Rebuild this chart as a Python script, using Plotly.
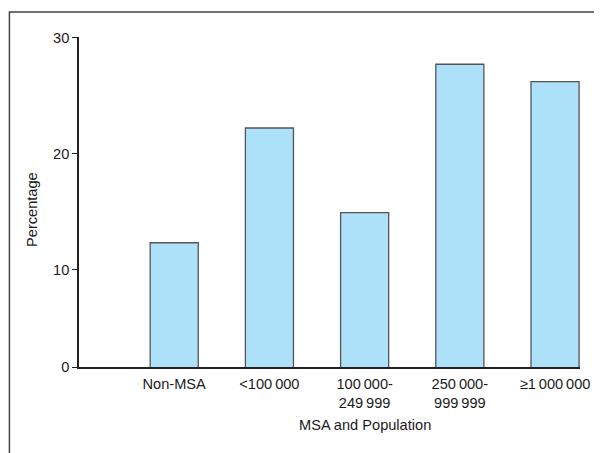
import plotly.graph_objects as go

categories = ["Non-MSA", "<100\u2009000", "100\u2009000-<br>249\u2009999",
              "250\u2009000-<br>999\u2009999", "\u22651\u2009000\u2009000"]
percentages = [12.3, 22.2, 14.9, 27.7, 26.2]

y_tick_values = [1.58, 10, 20, 30]
y_tick_labels = ["0", "10", "20", "30"]

FONT = "Liberation Sans, Arial, sans-serif"
FS = 14.6

# page body has an 8px margin; figure is sized so it fits the 602x453 window
W, H = 594, 445
L, T, PW, PH = 71, 29, 504, 330

fig = go.Figure()
fig.add_trace(go.Bar(
    x=list(range(len(categories))),
    y=percentages,
    width=0.505,
    marker=dict(color="#ADE0F9", line=dict(color="#555555", width=1.3)),
    cliponaxis=False,
))

fig.update_layout(
    width=W, height=H,
    margin=dict(l=L, r=W - L - PW, t=T, b=H - T - PH, pad=0),
    paper_bgcolor="white", plot_bgcolor="white",
    showlegend=False,
    font=dict(family=FONT, size=FS, color="#1a1a1a"),
    xaxis=dict(
        range=[-1, 4.262],
        tickmode="array",
        tickvals=list(range(len(categories))),
        ticktext=categories,
        ticks="", showgrid=False, zeroline=False,
        showline=True, linecolor="#222222", linewidth=1.5,
        tickfont=dict(family=FONT, size=FS),
        ticklabelstandoff=3,
    ),
    yaxis=dict(
        range=[1.58, 30.05],
        tickmode="array",
        tickvals=y_tick_values,
        ticktext=y_tick_labels,
        ticks="outside", ticklen=5, tickwidth=1.3, tickcolor="#222222",
        showgrid=False, zeroline=False,
        showline=True, linecolor="#222222", linewidth=1.5,
        tickfont=dict(family=FONT, size=FS),
    ),
    annotations=[
        dict(text="MSA and Population", xref="x", yref="paper",
             x=(len(categories) - 1) / 2, y=0, yshift=-58,
             xanchor="center", yanchor="middle", showarrow=False,
             font=dict(family=FONT, size=FS)),
        dict(text="Percentage", xref="paper", yref="paper",
             x=0, xshift=-47, y=0.476, textangle=-90,
             xanchor="center", yanchor="middle", showarrow=False,
             font=dict(family=FONT, size=FS)),
    ],
    shapes=[
        dict(type="rect", xref="paper", yref="paper",
             x0=(1 - L) / PW, x1=1.2, y0=-0.5, y1=(T + PH - 4) / PH,
             line=dict(color="#444444", width=1.5), layer="above"),
    ],
)

fig.write_html("out.html")
